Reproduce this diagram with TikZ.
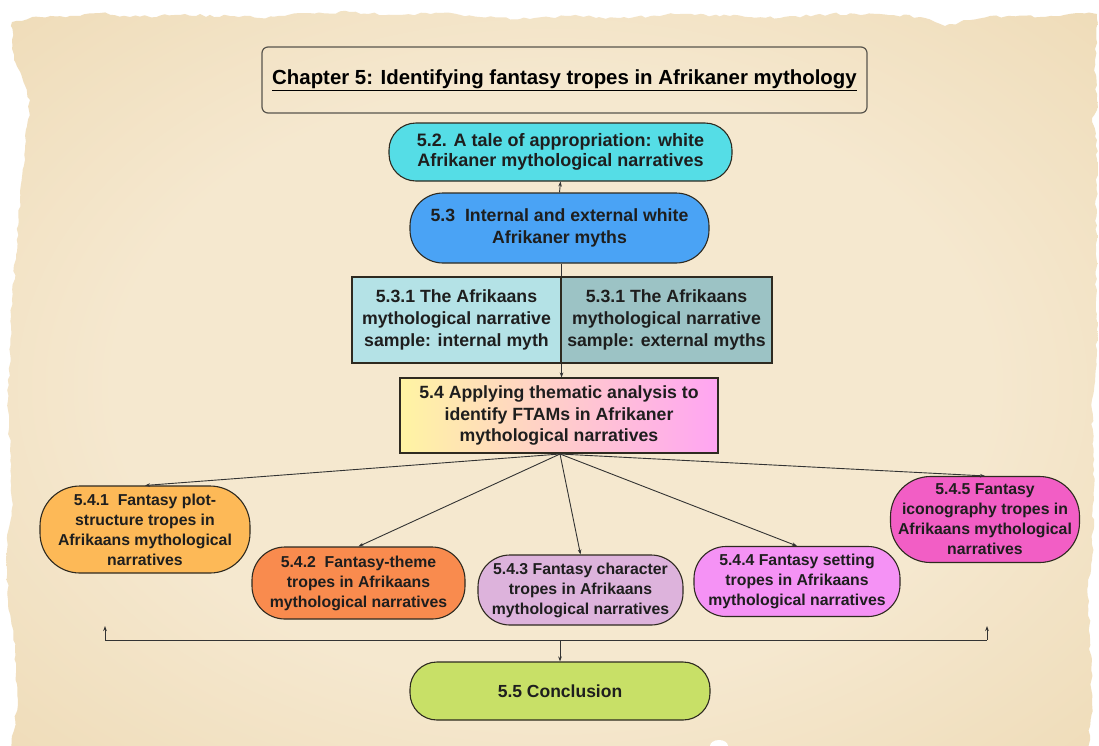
\documentclass[tikz,border=0pt]{standalone}
\usepackage{fontspec}
\setmainfont{Liberation Sans}
\usetikzlibrary{arrows.meta,decorations.pathmorphing}
\definecolor{cfiftytwo}{HTML}{55DDE6}
\definecolor{cfiftythree}{HTML}{4AA3F5}
\definecolor{cinternal}{HTML}{B4E2E6}
\definecolor{cexternal}{HTML}{9CC3C5}
\definecolor{cgradl}{HTML}{FFF4A3}
\definecolor{cgradm}{HTML}{FFD2C4}
\definecolor{cgradr}{HTML}{FFA5F2}
\definecolor{cplot}{HTML}{FDB957}
\definecolor{ctheme}{HTML}{F98B4E}
\definecolor{cchar}{HTML}{DDB3DC}
\definecolor{csetting}{HTML}{F592F5}
\definecolor{cicon}{HTML}{F25EC5}
\definecolor{cconcl}{HTML}{C8E067}
\definecolor{edgec}{HTML}{2E2A20}
\definecolor{txtc}{HTML}{1E1E1E}
\definecolor{linec}{HTML}{333333}
\definecolor{parchin}{HTML}{F5E8CF}
\definecolor{parchmid}{HTML}{EEDAB5}
\definecolor{parchout}{HTML}{DCBD8A}
\pgfdeclareradialshading{parchment}{\pgfpoint{0bp}{0bp}}{color(0bp)=(parchin); color(20bp)=(parchin); color(38bp)=(parchmid); color(50bp)=(parchout)}
\newcommand\myfs[2]{\fontsize{#1}{#2}\selectfont}
\begin{document}
\begin{tikzpicture}[x=1pt,y=-1pt,
  box/.style={draw=edgec, line width=1.1pt, align=center, inner sep=0pt, text=txtc},
  fbig/.style={font=\bfseries\myfs{17.7}{21.7}},
  fsmall/.style={font=\bfseries\myfs{15.8}{20}},
  conn/.style={draw=linec, line width=0.9pt},
  arr/.style={conn, -{Stealth[length=5pt,width=3.6pt]}}]
\useasboundingbox (0,0) rectangle (1099,745);
\fill[white] (0,0) rectangle (1099,745);
% parchment
\pgfmathsetseed{7}
\shade[decorate, decoration={random steps, segment length=5pt, amplitude=1.4pt},
  shading=parchment]
  (12,22) -- (40,17) -- (80,16) -- (100,13) -- (130,17) -- (180,15) -- (230,16) -- (260,18)
  -- (300,13) -- (350,12) -- (400,15) -- (440,13) -- (480,17) -- (530,19) -- (570,16)
  -- (620,18) -- (680,14) -- (730,16) -- (780,18) -- (830,14) -- (880,14) -- (920,17)
  -- (945,26) -- (960,22) -- (990,16) -- (1040,17) -- (1080,13) -- (1097,14) -- (1095,60)
  -- (1097,110) -- (1092,118) -- (1097,140) -- (1096,250) -- (1097,350) -- (1092,410)
  -- (1094,470) -- (1092,560) -- (1088,580) -- (1090,640) -- (1092,700) -- (1088,760)
  -- (10,760) -- (18,700) -- (15,650) -- (8,600) -- (7,550) -- (12,500) -- (10,450)
  -- (8,400) -- (12,300) -- (20,200) -- (25,150) -- (30,100) -- (14,60) -- (12,40) -- cycle;
\fill[white] (719,746) ellipse [x radius=9pt, y radius=6pt];

% title
\node[draw=edgec!80, line width=1.2pt, rounded corners=6pt, minimum width=605pt,
  minimum height=66pt, inner sep=0pt, text=black, font=\bfseries\myfs{20.4}{24}]
  (title) at (564.5,80) {\underline{Chapter 5: Identifying fantasy tropes in Afrikaner mythology}};

\node[box, fbig, font=\bfseries\myfs{18}{19.5}, fill=cfiftytwo, rounded corners=27pt,
  minimum width=343pt, minimum height=58pt] (n52) at (560.5,152)
  {5.2. A tale of appropriation: white\\Afrikaner mythological narratives};

\node[box, fbig, fill=cfiftythree, rounded corners=33pt, minimum width=299pt,
  minimum height=70pt] (n53) at (559.5,228)
  {5.3\ \ Internal and external white\\Afrikaner myths};

\node[box, fbig, fill=cinternal, minimum width=209pt, minimum height=86pt]
  (n531a) at (456.5,320)
  {5.3.1 The Afrikaans\\mythological narrative\\sample: internal myth};
\node[box, fbig, fill=cexternal, minimum width=211pt, minimum height=86pt]
  (n531b) at (666.5,320)
  {5.3.1 The Afrikaans\\mythological narrative\\sample: external myths};

\node[box, fbig, left color=cgradl, middle color=cgradm, right color=cgradr,
  minimum width=318pt, minimum height=75pt] (n54) at (559,415.5)
  {5.4 Applying thematic analysis to\\identify FTAMs in Afrikaner\\mythological narratives};

\node[box, fsmall, fill=cplot, rounded corners=40pt, minimum width=210pt,
  minimum height=87pt] (n541) at (145,529.5)
  {5.4.1\ \ Fantasy plot-\\structure tropes in\\Afrikaans mythological\\narratives};
\node[box, fsmall, fill=ctheme, rounded corners=33pt, minimum width=213pt,
  minimum height=72pt] (n542) at (358.5,583)
  {5.4.2\ \ Fantasy-theme\\tropes in Afrikaans\\mythological narratives};
\node[box, fsmall, fill=cchar, rounded corners=32pt, minimum width=205pt,
  minimum height=70pt] (n543) at (580.5,590)
  {5.4.3 Fantasy character\\tropes in Afrikaans\\mythological narratives};
\node[box, fsmall, fill=csetting, rounded corners=32pt, minimum width=206pt,
  minimum height=70pt] (n544) at (797,581.5)
  {5.4.4 Fantasy setting\\tropes in Afrikaans\\mythological narratives};
\node[box, fsmall, fill=cicon, rounded corners=40pt, minimum width=189pt,
  minimum height=86pt] (n545) at (985,519.5)
  {5.4.5 Fantasy\\iconography tropes in\\Afrikaans mythological\\narratives};

\node[box, fbig, font=\bfseries\myfs{17.5}{21}, fill=cconcl, rounded corners=27pt,
  minimum width=300pt, minimum height=58pt] (n55) at (560,691) {5.5 Conclusion};

% connectors
\draw[arr] (n53.north) -- (n52.south);
\draw[conn] (n53.south -| n531a.north east) -- (n531a.north east);
\draw[arr] (n531a.south east) -- (n531a.south east |- n54.north);
\coordinate (hub) at (560,454);
\foreach \t in {n541,n542,n543,n544,n545}
  \draw[arr] (hub) -- (\t.north);
\coordinate (bL) at (105,640);
\coordinate (bLt) at (105,626);
\coordinate (bR) at (987,640);
\coordinate (bRt) at (987,626);
\draw[conn] (bL) -- (bR);
\draw[arr] (bL) -- (bLt);
\draw[arr] (bR) -- (bRt);
\draw[arr] (bL -| n55.north) -- (n55.north);
\end{tikzpicture}
\end{document}
